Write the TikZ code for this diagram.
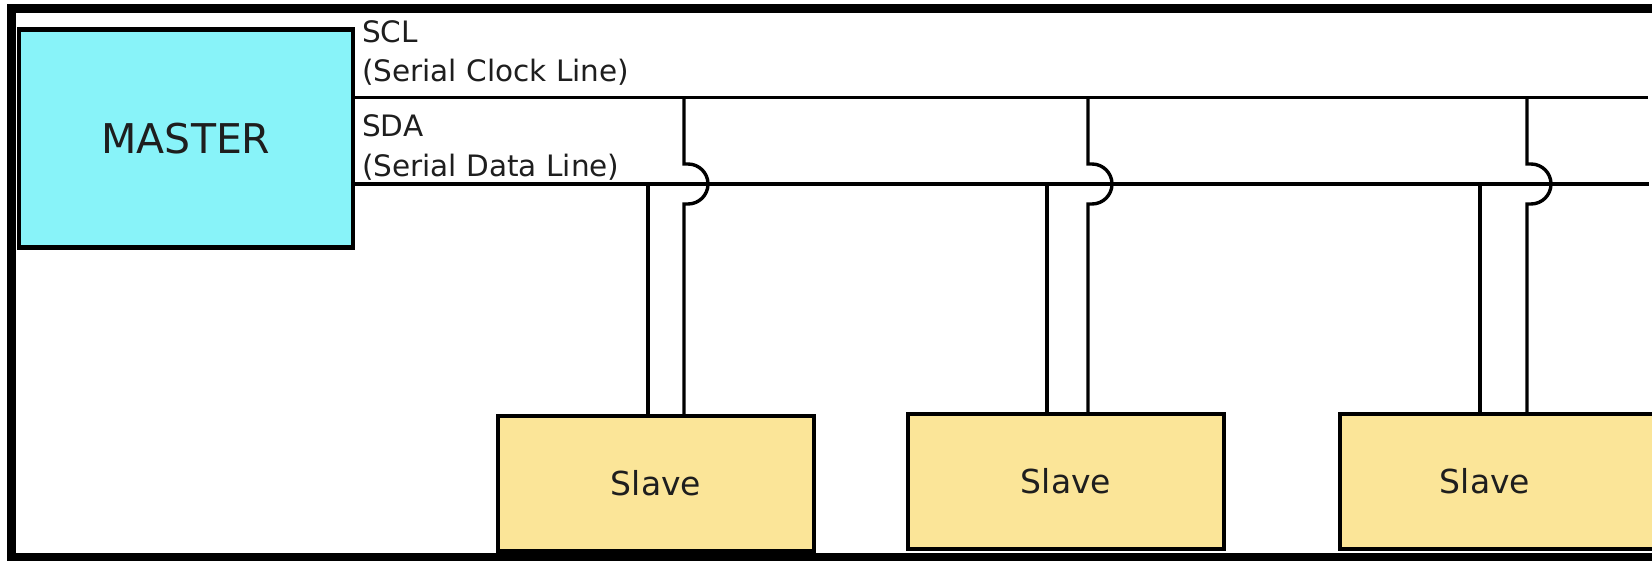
\documentclass[tikz,border=0pt]{standalone}
\usepackage{fontspec}
\setmainfont{DejaVu Sans}
\definecolor{mastercyan}{RGB}{136,243,249}
\definecolor{slaveyellow}{RGB}{251,229,152}
\definecolor{inkdark}{RGB}{30,30,30}
\tikzset{
  bus/.style={line width=3.4pt, black},
  masterbox/.style={draw=black, line width=4.5pt, fill=mastercyan, rectangle, inner sep=0pt,
    minimum width=334pt, minimum height=218pt, text=inkdark,
    font=\fontsize{41}{49}\selectfont},
  slavebox/.style={draw=black, line width=4.5pt, fill=slaveyellow, rectangle, inner sep=0pt,
    minimum width=316pt, minimum height=135pt, text=inkdark,
    font=\fontsize{33}{40}\selectfont},
  buslabel/.style={anchor=base west, inner sep=0pt, text=inkdark,
    font=\fontsize{29.5}{36}\selectfont}
}
\begin{document}
\begin{tikzpicture}[x=1pt,y=-1pt]
\useasboundingbox[fill=white] (0,0) rectangle (1652,561);
% outer frame
\draw[line width=9pt] (11,9) rectangle (1720,557);

% master
\node[masterbox] (master) at (186,138.5) {MASTER};

% labels
\node[buslabel] (sclA) at (362,43) {SCL};
\node[buslabel] (sclB) at (362,82) {(Serial Clock Line)};
\node[buslabel] (sdaA) at (362,137) {SDA};
\node[buslabel] (sdaB) at (362,177) {(Serial Data Line)};

% bus ends
\coordinate (sclEnd) at (1648,97.5);
\coordinate (sdaEnd) at (1649,184);
\draw[bus] (master.east |- sclEnd) -- (sclEnd);
\draw[bus] (master.east |- sdaEnd) -- (sdaEnd);

% slaves
\node[slavebox] (s1) at (656,483.5) {Slave};
\node[slavebox] (s2) at (1066,481.5) {Slave};
\node[slavebox] (s3) at (1498,481.5) {\hspace*{-26pt}Slave};

% taps
\foreach \d/\c/\s in {648/684/s1, 1047/1088/s2, 1480/1527/s3}{
  \coordinate (d\s) at (\d,184);
  \coordinate (c\s) at (\c,97.5);
  \draw[bus] (d\s) -- (d\s |- \s.north);
  \draw[bus, line join=miter] (c\s) -- (\c,164) -- (\c+4,164)
      arc[start angle=-90, end angle=90, radius=20] -- (\c,204) -- (c\s |- \s.north);
}
\end{tikzpicture}
\end{document}
